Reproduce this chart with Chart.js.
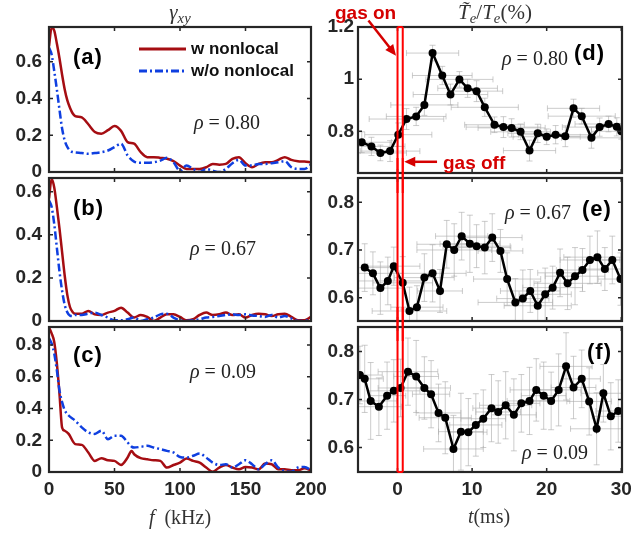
<!DOCTYPE html>
<html>
<head>
<meta charset="utf-8">
<script src="https://cdn.jsdelivr.net/npm/chart.js@4.4.0/dist/chart.umd.min.js"></script>
<style>
  body { margin: 0; background: #fff; overflow: hidden; }
  #fig { position: relative; width: 631px; height: 533px; overflow: hidden; }
  canvas { position: absolute; }
  .t { position: absolute; white-space: nowrap; line-height: 1; }
  .serif { font-family: "Liberation Serif", "DejaVu Serif", serif; color: #333; }
  .lab { font-family: "Liberation Sans", Arial, sans-serif; font-weight: bold; font-size: 22px; letter-spacing: 1px; color: #000; transform: translateY(-50%); }
  .rho { font-size: 20px; color: #222; transform: translateY(-50%); }
  .ttl { font-size: 21px; transform: translate(-50%, -50%); }
  sub { font-size: 70%; vertical-align: -0.3em; }
  .gas { font-family: "Liberation Sans", Arial, sans-serif; font-weight: bold; font-size: 19px; color: #d50000; transform: translateY(-50%); }
  .leg { position: absolute; font-family: "Liberation Sans", Arial, sans-serif; font-weight: bold; font-size: 17px; color: #111; }
  .leg .row { display: flex; align-items: center; height: 22px; }
  .leg span { margin-left: 5px; }
</style>
</head>
<body>
<div id="fig">
  <canvas id="ca" width="335" height="185" style="left:0;top:7px"></canvas>
  <canvas id="cb" width="335" height="183" style="left:0;top:158px"></canvas>
  <canvas id="cc" width="335" height="195" style="left:0;top:307px"></canvas>
  <canvas id="cd" width="320" height="186" style="left:320px;top:7px"></canvas>
  <canvas id="ce" width="320" height="183" style="left:320px;top:158px"></canvas>
  <canvas id="cf" width="320" height="195" style="left:320px;top:307px"></canvas>

  <div class="t serif ttl" style="left:180px;top:14px"><i>γ<sub>xy</sub></i></div>
  <div class="t serif ttl" style="left:495px;top:14px"><i>T̃<sub>e</sub></i>/<i>T<sub>e</sub></i>(%)</div>
  <div class="t serif ttl" style="left:180px;top:517px;font-size:20px"><i>f</i>&nbsp;&nbsp;(kHz)</div>
  <div class="t serif ttl" style="left:489px;top:516px;font-size:20px"><i>t</i>(ms)</div>

  <div class="t lab" style="left:73px;top:57px">(a)</div>
  <div class="t lab" style="left:73px;top:208px">(b)</div>
  <div class="t lab" style="left:73px;top:355px">(c)</div>
  <div class="t lab" style="left:574px;top:53px">(d)</div>
  <div class="t lab" style="left:582px;top:209px">(e)</div>
  <div class="t lab" style="left:587px;top:352px">(f)</div>

  <div class="t serif rho" style="left:194px;top:122px"><i>ρ</i> = 0.80</div>
  <div class="t serif rho" style="left:190px;top:248px"><i>ρ</i> = 0.67</div>
  <div class="t serif rho" style="left:190px;top:371px"><i>ρ</i> = 0.09</div>
  <div class="t serif rho" style="left:502px;top:58px"><i>ρ</i> = 0.80</div>
  <div class="t serif rho" style="left:505px;top:212px"><i>ρ</i> = 0.67</div>
  <div class="t serif rho" style="left:522px;top:452px"><i>ρ</i> = 0.09</div>

  <div class="t gas" style="left:335px;top:12px">gas on</div>
  <div class="t gas" style="left:443px;top:162px">gas off</div>

  <div class="leg" style="left:139px;top:38px">
    <div class="row"><svg width="47" height="22"><line x1="0" y1="11" x2="47" y2="11" stroke="#a50d12" stroke-width="3"/></svg><span>w nonlocal</span></div>
    <div class="row"><svg width="47" height="22"><line x1="0" y1="11" x2="47" y2="11" stroke="#0f3fe0" stroke-width="3" stroke-dasharray="8 3 2 3"/></svg><span>w/o nonlocal</span></div>
  </div>
</div>

<script>
// ---- gamma_xy spectra (left column), f in kHz ----
const freqAB = [0, 2, 4, 6, 8, 10, 12, 14, 16, 18, 20, 25, 30, 35, 40, 45, 50, 55, 60, 65, 70, 75, 80, 85, 90, 95, 100,
  105, 110, 115, 120, 125, 130, 135, 140, 145, 150, 155, 160, 165, 170, 175, 180, 185, 190, 195, 200];
const redA = [0.686, 0.787, 0.77, 0.70, 0.62, 0.53, 0.45, 0.39, 0.35, 0.32, 0.305, 0.297, 0.26, 0.218, 0.209, 0.228, 0.25,
  0.224, 0.163, 0.154, 0.108, 0.081, 0.081, 0.077, 0.072, 0.059, 0.035, 0.017, 0.017, 0.017, 0.026, 0.044, 0.04, 0.044,
  0.072, 0.081, 0.048, 0.026, 0.044, 0.053, 0.053, 0.066, 0.081, 0.066, 0.059, 0.057, 0.053];
const blueA = [0.677, 0.64, 0.55, 0.45, 0.34, 0.237, 0.172, 0.136, 0.117, 0.108, 0.106, 0.103, 0.099, 0.103, 0.108, 0.117,
  0.136, 0.154, 0.09, 0.057, 0.05, 0.05, 0.053, 0.062, 0.077, 0.053, 0.007, 0.035, 0.017, 0, 0.017, 0.007, 0, 0.017, 0.048,
  0.066, 0.035, 0.035, 0.044, 0.044, 0.048, 0.053, 0.059, 0.026, 0.017, 0.017, 0.04];
const redB = [0.569, 0.66, 0.62, 0.53, 0.43, 0.32, 0.21, 0.12, 0.065, 0.042, 0.034, 0.034, 0.047, 0.031, 0.028, 0.039, 0.047,
  0.062, 0.039, 0.016, 0.028, 0.019, 0, 0.016, 0.031, 0.031, 0.019, 0.003, 0.008, 0.028, 0.039, 0.028, 0.031, 0.039, 0.028,
  0.031, 0.016, 0.028, 0.034, 0.031, 0.023, 0.031, 0.034, 0.019, 0.003, 0.003, 0.019];
const blueB = [0.56, 0.53, 0.45, 0.34, 0.23, 0.14, 0.075, 0.04, 0.025, 0.023, 0.028, 0.028, 0.034, 0.039, 0.028, 0.016, 0.003,
  0.003, 0.008, 0.016, 0, 0.008, 0.016, 0.031, 0.034, 0.016, 0.003, 0, 0.003, 0.008, 0.016, 0.019, 0.023, 0.028, 0.031,
  0.028, 0.031, 0.026, 0.023, 0.019, 0.028, 0.016, 0.023, 0.012, 0, 0, 0.008];
const freqC = [0, 2, 4, 6, 8, 10, 12, 15, 20, 25, 30, 35, 40, 45, 50, 55, 60, 63, 65, 70, 75, 80, 85, 90, 95, 100, 105, 110,
  115, 120, 125, 130, 135, 140, 145, 150, 155, 160, 165, 170, 175, 180, 185, 190, 195, 200];
const redC = [0.912, 0.874, 0.82, 0.684, 0.493, 0.28, 0.26, 0.24, 0.176, 0.171, 0.123, 0.07, 0.087, 0.074, 0.07, 0.044, 0.091,
  0.133, 0.112, 0.087, 0.08, 0.074, 0.07, 0.028, 0.044, 0.059, 0.085, 0.07, 0.059, 0.028, 0.002, 0.028, 0.044, 0.028, 0.017,
  0.032, 0.028, 0.017, 0.053, 0.049, 0.017, 0.017, 0.011, 0.011, 0.023, 0.011];
const blueC = [0.842, 0.81, 0.747, 0.641, 0.514, 0.44, 0.39, 0.356, 0.324, 0.281, 0.25, 0.24, 0.26, 0.207, 0.229, 0.229, 0.186,
  0.16, 0.154, 0.159, 0.165, 0.154, 0.144, 0.133, 0.123, 0.095, 0.091, 0.102, 0.116, 0.091, 0.059, 0.044, 0.049, 0.028, 0.049,
  0.074, 0.049, 0.017, 0.049, 0.074, 0.028, 0.006, 0.002, 0.028, 0.032, 0.011];
const freqTicks = [0, 50, 100, 150, 200];
const gammaTicksAB = [0, 0.2, 0.4, 0.6];
const gammaTicksC = [0, 0.2, 0.4, 0.6, 0.8];

// ---- Te fluctuation vs time (right column), t in ms ----
const tD = [-4.8, -3.5, -2.3, -1.0, 0.1, 1.2, 2.5, 3.6, 4.7, 6.0, 7.1, 8.3, 9.4, 10.6, 11.7, 13.0, 14.2, 15.3, 16.5, 17.7,
  18.8, 20.0, 21.2, 22.5, 23.6, 24.7, 26.0, 27.1, 28.3, 29.4, 30.0];
const teD = [0.758, 0.742, 0.717, 0.724, 0.787, 0.847, 0.857, 0.901, 1.10, 1.014, 0.941, 0.999, 0.965, 0.954, 0.892, 0.825,
  0.816, 0.813, 0.798, 0.726, 0.792, 0.779, 0.787, 0.781, 0.888, 0.858, 0.775, 0.816, 0.828, 0.817, 0.800];
const tErrD = [4, 4.5, 3.5, 4, 4.5, 5, 4, 4.5, 3.5, 4, 5, 4.5, 4, 3.5, 4.5, 4, 5, 4.5, 4, 3.5, 4, 4.5, 5, 4, 3.5, 4.5, 4, 5,
  4.5, 4, 4];
const teErrD = [0.04, 0.035, 0.03, 0.04, 0.045, 0.04, 0.035, 0.04, 0.03, 0.035, 0.04, 0.03, 0.035, 0.04, 0.035, 0.03, 0.04,
  0.035, 0.03, 0.04, 0.035, 0.03, 0.035, 0.04, 0.035, 0.03, 0.04, 0.035, 0.03, 0.035, 0.03];

const tE = [-4.4, -3.3, -2.3, -1.3, -0.5, 0.7, 1.6, 2.6, 3.6, 4.7, 5.7, 6.6, 7.6, 8.6, 9.7, 10.6, 11.7, 12.7, 13.8, 14.7,
  15.8, 16.8, 17.8, 18.8, 19.8, 20.8, 21.8, 22.8, 23.8, 24.8, 25.8, 26.8, 27.8, 28.8, 29.9];
const teE = [0.663, 0.651, 0.620, 0.635, 0.666, 0.631, 0.572, 0.580, 0.642, 0.651, 0.614, 0.712, 0.700, 0.729, 0.713, 0.708,
  0.705, 0.726, 0.698, 0.639, 0.590, 0.598, 0.614, 0.583, 0.607, 0.621, 0.652, 0.630, 0.645, 0.658, 0.679, 0.685, 0.660,
  0.679, 0.639];
const tErrE = [3.5, 4, 3, 4.5, 3.5, 4, 5, 3.5, 4, 4.5, 3, 4, 5, 3.5, 4, 4.5, 3.5, 4, 3, 4.5, 5, 3.5, 4, 4.5, 3.5, 4, 3, 4.5,
  4, 3.5, 4, 4.5, 3.5, 4, 3];
const teErrE = [0.05, 0.045, 0.055, 0.05, 0.04, 0.055, 0.05, 0.045, 0.05, 0.06, 0.045, 0.05, 0.055, 0.05, 0.06, 0.045, 0.055,
  0.05, 0.045, 0.055, 0.05, 0.06, 0.045, 0.05, 0.055, 0.045, 0.05, 0.055, 0.06, 0.045, 0.05, 0.055, 0.045, 0.05, 0.055];

const tF = [-5.05, -4.4, -3.6, -2.5, -1.4, -0.5, 0.4, 1.4, 2.5, 3.6, 4.5, 5.5, 6.4, 7.5, 8.5, 9.5, 10.5, 11.5, 12.6, 13.5,
  14.5, 15.6, 16.6, 17.7, 18.6, 19.6, 20.6, 21.6, 22.6, 23.6, 24.7, 25.7, 26.7, 27.6, 28.6, 29.6];
const teF = [0.751, 0.743, 0.697, 0.685, 0.708, 0.718, 0.724, 0.758, 0.748, 0.724, 0.711, 0.672, 0.662, 0.597, 0.633, 0.632,
  0.647, 0.660, 0.682, 0.674, 0.688, 0.668, 0.692, 0.697, 0.720, 0.708, 0.697, 0.720, 0.769, 0.725, 0.743, 0.696, 0.639,
  0.713, 0.665, 0.676];
const tErrF = [3, 2.5, 3.5, 3, 2.5, 3.5, 3, 4, 3, 3.5, 2.5, 3, 3.5, 4, 3, 2.5, 3.5, 3, 2.5, 3, 3.5, 3, 2.5, 3, 3.5, 3, 2.5,
  3, 3.5, 3, 2.5, 3, 3.5, 3, 2.5, 3];
const teErrF = [0.06, 0.07, 0.08, 0.06, 0.07, 0.065, 0.06, 0.07, 0.075, 0.065, 0.07, 0.06, 0.075, 0.07, 0.08, 0.07, 0.065,
  0.06, 0.07, 0.065, 0.07, 0.075, 0.06, 0.07, 0.065, 0.07, 0.06, 0.075, 0.07, 0.065, 0.06, 0.07, 0.075, 0.06, 0.07, 0.065];
const timeTicks = [0, 10, 20, 30];
const teTicksD = [0.8, 1, 1.2];
const teTicksEF = [0.6, 0.7, 0.8];

// gas puff window and annotation arrows (data units of panel d)
const gasOn = 0, gasOff = 0.7;
const gasOnArrow = [[-3.9, 1.225], [-0.2, 1.09]];
const gasOffArrow = [[5.3, 0.683], [0.9, 0.683]];

const RED = '#a50d12', BLUE = '#0f3fe0', AXIS = '#262626';
const tickFont = { family: 'Liberation Sans', size: 19, weight: 'bold' };

const pts = (xs, ys) => xs.map((x, i) => ({ x: x, y: ys[i] }));

// MATLAB style box with inward ticks on every side
const boxPlugin = {
  id: 'axesBox',
  afterDatasetsDraw(chart) {
    const { ctx, chartArea: a, scales: { x, y } } = chart;
    ctx.save();
    ctx.strokeStyle = AXIS;
    ctx.lineWidth = 1.5;
    ctx.beginPath();
    x.ticks.forEach(t => {
      const p = x.getPixelForValue(t.value);
      ctx.moveTo(p, a.top); ctx.lineTo(p, a.top + 4);
      ctx.moveTo(p, a.bottom); ctx.lineTo(p, a.bottom - 4);
    });
    y.ticks.forEach(t => {
      const p = y.getPixelForValue(t.value);
      ctx.moveTo(a.left, p); ctx.lineTo(a.left + 4, p);
      ctx.moveTo(a.right, p); ctx.lineTo(a.right - 4, p);
    });
    ctx.stroke();
    ctx.lineWidth = 2.2;
    ctx.strokeRect(a.left, a.top, a.right - a.left, a.bottom - a.top);
    ctx.restore();
  }
};

// light grey x / y error bars behind the markers
const errorBarPlugin = {
  id: 'errorBars',
  beforeDatasetsDraw(chart, args, opts) {
    if (!opts.xErr) return;
    const { ctx, chartArea: a, scales: { x, y } } = chart;
    const data = chart.data.datasets[0].data;
    ctx.save();
    ctx.beginPath();
    ctx.rect(a.left, a.top, a.right - a.left, a.bottom - a.top);
    ctx.clip();
    ctx.strokeStyle = 'rgba(170,170,170,0.6)';
    ctx.lineWidth = 1;
    data.forEach((d, i) => {
      const px = x.getPixelForValue(d.x), py = y.getPixelForValue(d.y);
      const x0 = x.getPixelForValue(d.x - opts.xErr[i]), x1 = x.getPixelForValue(d.x + opts.xErr[i]);
      const y0 = y.getPixelForValue(d.y - opts.yErr[i]), y1 = y.getPixelForValue(d.y + opts.yErr[i]);
      ctx.beginPath();
      ctx.moveTo(x0, py); ctx.lineTo(x1, py);
      ctx.moveTo(x0, py - 3); ctx.lineTo(x0, py + 3);
      ctx.moveTo(x1, py - 3); ctx.lineTo(x1, py + 3);
      ctx.moveTo(px, y0); ctx.lineTo(px, y1);
      ctx.moveTo(px - 3, y0); ctx.lineTo(px + 3, y0);
      ctx.moveTo(px - 3, y1); ctx.lineTo(px + 3, y1);
      ctx.stroke();
    });
    ctx.restore();
  }
};

function arrow(ctx, x0, y0, x1, y1) {
  const ang = Math.atan2(y1 - y0, x1 - x0), L = 11, W = 5;
  const c = Math.cos(ang), s = Math.sin(ang);
  ctx.beginPath();
  ctx.moveTo(x0, y0);
  ctx.lineTo(x1 - L * c * 0.8, y1 - L * s * 0.8);
  ctx.stroke();
  ctx.beginPath();
  ctx.moveTo(x1, y1);
  ctx.lineTo(x1 - L * c + W * s, y1 - L * s - W * c);
  ctx.lineTo(x1 - L * c - W * s, y1 - L * s + W * c);
  ctx.closePath();
  ctx.fill();
}

// red gas window running through the right column
const gasPlugin = {
  id: 'gas',
  afterDraw(chart, args, opts) {
    if (!opts.on) return;
    const { ctx, chartArea: a, scales: { x, y } } = chart;
    const x0 = x.getPixelForValue(gasOn), x1 = x.getPixelForValue(gasOff);
    const top = opts.first ? a.top : 0;
    const bottom = opts.last ? a.bottom : chart.height;
    ctx.save();
    ctx.strokeStyle = '#ff0000';
    ctx.lineWidth = 2;
    ctx.beginPath();
    ctx.moveTo(x0, bottom); ctx.lineTo(x0, top);
    ctx.moveTo(x1, top); ctx.lineTo(x1, bottom);
    if (opts.first) { ctx.moveTo(x0, top); ctx.lineTo(x1, top); }
    if (opts.last) { ctx.moveTo(x0, bottom); ctx.lineTo(x1, bottom); }
    ctx.stroke();
    if (opts.arrows) {
      ctx.strokeStyle = '#d50000';
      ctx.fillStyle = '#d50000';
      ctx.lineWidth = 2.5;
      [gasOnArrow, gasOffArrow].forEach(ar => {
        arrow(ctx, x.getPixelForValue(ar[0][0]), y.getPixelForValue(ar[0][1]),
          x.getPixelForValue(ar[1][0]), y.getPixelForValue(ar[1][1]));
      });
    }
    ctx.restore();
  }
};

// tick label half-height + tick padding spills outside the plot box, so pad 20px above/below
function makeChart(id, o) {
  return new Chart(document.getElementById(id), {
    type: 'line',
    data: { datasets: o.datasets },
    plugins: o.plugins,
    options: {
      responsive: false,
      animation: false,
      devicePixelRatio: 1,
      layout: { padding: { top: 20, right: o.padR, bottom: o.showX ? 0 : 20, left: 0 } },
      plugins: {
        legend: { display: false },
        tooltip: { enabled: false },
        errorBars: o.err || {},
        gas: o.gas || {}
      },
      scales: {
        x: {
          type: 'linear', min: o.xMin, max: o.xMax, display: o.showX,
          grid: { display: false, drawTicks: false }, border: { display: false },
          ticks: { font: tickFont, color: AXIS, padding: 6, maxRotation: 0, autoSkip: false, callback: v => String(v) },
          afterBuildTicks: s => { s.ticks = o.xTicks.map(v => ({ value: v })); },
          afterFit: s => { s.height = o.showX ? 30 : 0; }
        },
        y: {
          min: o.yMin, max: o.yMax,
          grid: { display: false, drawTicks: false }, border: { display: false },
          ticks: { font: tickFont, color: AXIS, padding: o.yPad, autoSkip: false, callback: v => String(v) },
          afterBuildTicks: s => { s.ticks = o.yTicks.map(v => ({ value: v })); },
          afterFit: s => { s.width = o.yW; }
        }
      }
    }
  });
}

function gammaSets(fr, red, blue) {
  return [
    { data: pts(fr, red), borderColor: RED, borderWidth: 2.5, pointRadius: 0, cubicInterpolationMode: 'monotone', order: 1 },
    { data: pts(fr, blue), borderColor: BLUE, borderWidth: 2.5, borderDash: [8, 3, 2, 3], pointRadius: 0, cubicInterpolationMode: 'monotone', order: 0 }
  ];
}

function teSet(ts, vs) {
  return [{ data: pts(ts, vs), borderColor: '#000', borderWidth: 2.5, pointRadius: 4, pointBackgroundColor: '#000', pointBorderWidth: 0 }];
}

const left = { padR: 24, yW: 49, yPad: 7, xMin: 0, xMax: 200, xTicks: freqTicks, plugins: [boxPlugin] };
makeChart('ca', Object.assign({}, left, { datasets: gammaSets(freqAB, redA, blueA), yMin: 0, yMax: 0.79, yTicks: gammaTicksAB, showX: false }));
makeChart('cb', Object.assign({}, left, { datasets: gammaSets(freqAB, redB, blueB), yMin: 0, yMax: 0.664, yTicks: gammaTicksAB, showX: false }));
makeChart('cc', Object.assign({}, left, { datasets: gammaSets(freqC, redC, blueC), yMin: 0, yMax: 0.914, yTicks: gammaTicksC, showX: true }));

const right = { padR: 18, yW: 38, yPad: 4, xMin: -5.3, xMax: 30.1, xTicks: timeTicks, plugins: [errorBarPlugin, boxPlugin, gasPlugin] };
makeChart('cd', Object.assign({}, right, { datasets: teSet(tD, teD), yMin: 0.64, yMax: 1.2, yTicks: teTicksD, showX: false,
  err: { xErr: tErrD, yErr: teErrD }, gas: { on: true, first: true, arrows: true } }));
makeChart('ce', Object.assign({}, right, { datasets: teSet(tE, teE), yMin: 0.551, yMax: 0.851, yTicks: teTicksEF, showX: false,
  err: { xErr: tErrE, yErr: teErrE }, gas: { on: true } }));
makeChart('cf', Object.assign({}, right, { datasets: teSet(tF, teF), yMin: 0.549, yMax: 0.851, yTicks: teTicksEF, showX: true,
  err: { xErr: tErrF, yErr: teErrF }, gas: { on: true, last: true } }));
</script>
</body>
</html>
